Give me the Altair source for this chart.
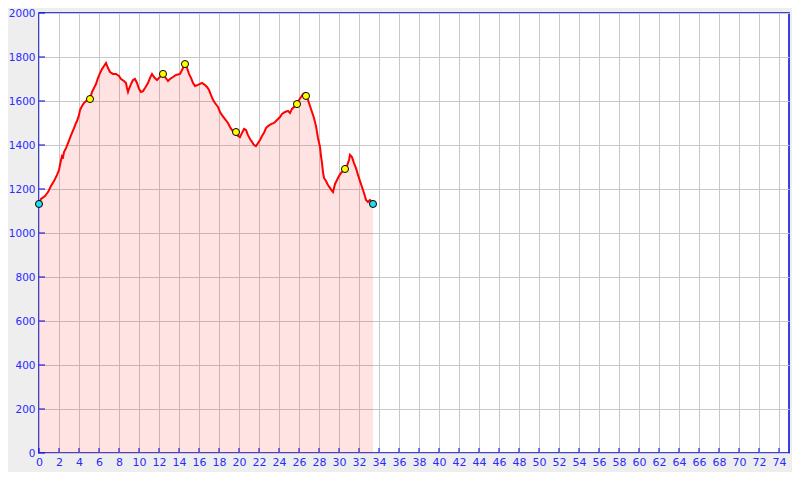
import altair as alt
import pandas as pd

# Elevation profile (distance in km, elevation in m)
km = [0.0, 0.2, 0.6, 0.9, 1.2, 1.5, 1.8, 2.0, 2.2, 2.3, 2.4, 2.5, 2.7, 2.9, 3.1, 3.3, 3.5, 3.7, 3.8, 4.0,
      4.1, 4.3, 4.5, 4.7, 4.9, 5.1, 5.3, 5.5, 5.7, 5.9, 6.1, 6.3, 6.5, 6.7, 6.9, 7.1, 7.4, 7.7, 8.0, 8.2,
      8.5, 8.7, 8.8, 8.9, 9.0, 9.2, 9.4, 9.6, 9.8, 10.0, 10.2, 10.4, 10.6, 10.9, 11.1, 11.3, 11.5, 11.8, 12.0, 12.2,
      12.4, 12.6, 12.9, 13.1, 13.4, 13.7, 14.1, 14.3, 14.6, 14.8, 15.0, 15.2, 15.4, 15.6, 15.9, 16.3, 16.6, 16.8, 17.0, 17.2,
      17.4, 17.6, 17.9, 18.1, 18.3, 18.6, 18.9, 19.1, 19.3, 19.5, 19.7, 19.9, 20.1, 20.3, 20.5, 20.7, 20.9, 21.1, 21.3, 21.5,
      21.7, 21.9, 22.1, 22.3, 22.5, 22.7, 22.9, 23.2, 23.5, 23.7, 23.9, 24.1, 24.3, 24.6, 24.9, 25.1, 25.3, 25.5, 25.8, 26.0,
      26.2, 26.4, 26.6, 26.7, 26.9, 27.1, 27.3, 27.5, 27.7, 27.9, 28.1, 28.2, 28.3, 28.4, 28.5, 28.7, 28.9, 29.1, 29.3, 29.4,
      29.6, 29.8, 30.0, 30.2, 30.4, 30.6, 30.8, 31.0, 31.1, 31.3, 31.5, 31.7, 31.9, 32.1, 32.3, 32.5, 32.7, 32.9, 33.1, 33.3,
      33.4]
elev = [1132, 1155, 1168, 1186, 1214, 1236, 1264, 1286, 1332, 1350, 1345, 1368, 1386, 1409, 1432, 1455, 1477, 1500, 1509, 1536,
        1559, 1577, 1591, 1600, 1605, 1609, 1641, 1659, 1677, 1705, 1727, 1745, 1759, 1773, 1750, 1732, 1723, 1723, 1714, 1700,
        1691, 1682, 1659, 1641, 1655, 1677, 1695, 1700, 1682, 1655, 1641, 1645, 1659, 1682, 1705, 1723, 1709, 1695, 1705, 1714,
        1723, 1709, 1691, 1700, 1709, 1718, 1723, 1741, 1768, 1750, 1723, 1705, 1682, 1668, 1673, 1682, 1673, 1664, 1650, 1627,
        1605, 1591, 1573, 1550, 1536, 1518, 1500, 1482, 1468, 1459, 1459, 1441, 1436, 1455, 1473, 1468, 1445, 1427, 1414, 1400,
        1395, 1409, 1423, 1441, 1455, 1477, 1486, 1495, 1500, 1509, 1518, 1527, 1541, 1550, 1555, 1545, 1564, 1573, 1586, 1605,
        1618, 1632, 1636, 1623, 1605, 1577, 1550, 1523, 1486, 1432, 1391, 1350, 1318, 1277, 1250, 1236, 1218, 1205, 1191, 1186,
        1223, 1241, 1259, 1273, 1282, 1291, 1305, 1332, 1355, 1345, 1318, 1295, 1264, 1236, 1209, 1182, 1150, 1141, 1150, 1141,
        1132]

# Waypoint markers
wp_km = [5.1, 12.4, 14.6, 19.7, 25.8, 26.7, 30.6]
wp_elev = [1609, 1723, 1768, 1459, 1586, 1623, 1291]
end_km = [0.0, 33.4]
end_elev = [1132, 1132]

x_ticks = list(range(0, 75, 2))
y_ticks = list(range(0, 2001, 200))

BLUE = "#0000e6"
LABEL = "#2a2aff"

prof = pd.DataFrame({"km": km, "elev": elev})
wp = pd.DataFrame({"km": wp_km, "elev": wp_elev})
ends = pd.DataFrame({"km": end_km, "elev": end_elev})
xt = pd.DataFrame({"km": x_ticks})
yt = pd.DataFrame({"elev": y_ticks})

xscale = alt.Scale(domain=[0, 75], nice=False, zero=False)
yscale = alt.Scale(domain=[0, 2000], nice=False)

xaxis = alt.Axis(values=x_ticks, format="d", title=None, grid=True, gridColor="#c8c8c8", ticks=False,
                 domain=False, labelColor=LABEL, labelPadding=3, labelFont="DejaVu Sans",
                 labelFontSize=11, labelFlush=False, labelOverlap=False)
yaxis = alt.Axis(values=y_ticks, format="d", title=None, grid=True, gridColor="#c8c8c8", ticks=False,
                 domain=False, labelColor=LABEL, labelPadding=4, labelFont="DejaVu Sans",
                 labelFontSize=10.5, labelFlush=False, labelOverlap=False)

X = alt.X("km:Q", scale=xscale, axis=xaxis)
Y = alt.Y("elev:Q", scale=yscale, axis=yaxis)

area = alt.Chart(prof).mark_area(color="#ff0000", opacity=0.11).encode(x=X, y=Y)
line = alt.Chart(prof).mark_line(color="#ff0000", strokeWidth=2).encode(x=X, y=Y)
pts = alt.Chart(wp).mark_point(shape="circle", filled=True, fill="#ffff00", stroke="#000000",
                                strokeWidth=1, size=50, opacity=1).encode(x=X, y=Y)
endpts = alt.Chart(ends).mark_point(shape="circle", filled=True, fill="#22ddee", stroke="#000000",
                                     strokeWidth=1, size=50, opacity=1).encode(x=X, y=Y)
xtick = alt.Chart(xt).mark_rule(color=BLUE, strokeWidth=1).encode(
    x=X, y=alt.value(440), y2=alt.value(435)
)
ytick = alt.Chart(yt).mark_rule(color=BLUE, strokeWidth=1).encode(
    y=Y, x=alt.value(0), x2=alt.value(6)
)

chart = alt.layer(area, line, xtick, ytick, pts, endpts).properties(
    width=750, height=440,
    autosize=alt.AutoSizeParams(type="none"),
    padding={"left": 31, "top": 5, "right": 3, "bottom": 19},
    background="#eeeeee",
).configure_view(stroke=BLUE, strokeWidth=1.5, fill="#ffffff")

chart.save("out.html", embed_options={"renderer": "svg", "actions": False})
